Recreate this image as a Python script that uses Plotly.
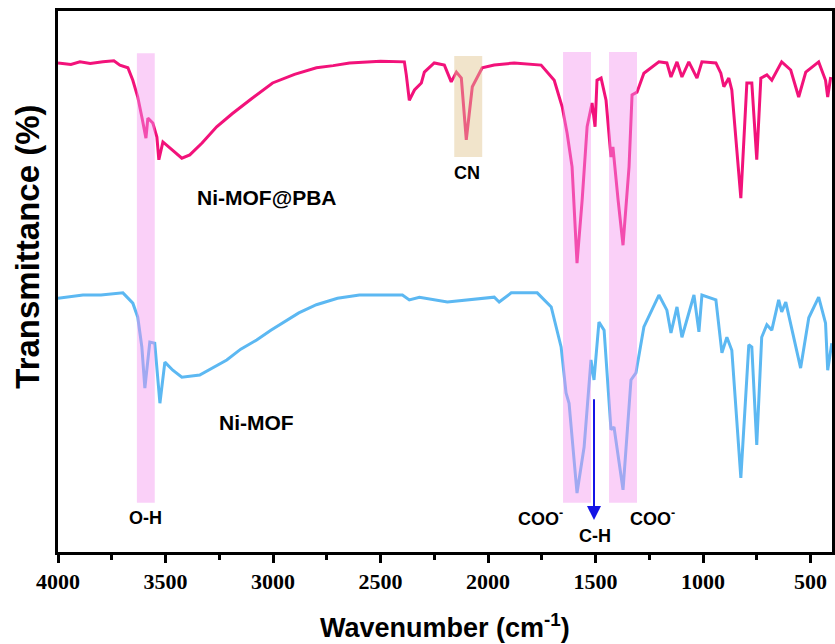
import plotly.graph_objects as go

# ---- data (wavenumber in cm-1, transmittance in arbitrary %) ----
pba_wn = [4000, 3940, 3898, 3850, 3791, 3740, 3712, 3675, 3652, 3629, 3610, 3591, 3582, 3559, 3540, 3531, 3512,
          3480, 3424, 3387, 3330, 3262, 3190, 3109, 3002, 2900, 2798, 2720, 2644, 2500, 2389, 2380, 2366, 2342, 2310, 2296,
          2250, 2203, 2171, 2147, 2124, 2101, 2073, 2027, 1971, 1878, 1800, 1753, 1692, 1655, 1632,
          1609, 1586, 1562, 1539, 1516, 1502, 1493, 1474, 1451, 1428, 1419, 1395, 1372, 1344,
          1330, 1307, 1275, 1205, 1168, 1149, 1121, 1098, 1066, 1028, 1005, 940, 917, 903,
          880, 866, 824, 796, 773, 750, 731, 703, 680, 634, 592, 555, 522, 462, 430, 420, 406]
pba_t = [90.4, 90.1, 90.6, 90.3, 90.6, 90.8, 90.0, 89.5, 87.2, 84.1, 80.4, 76.5, 80.2, 79.3, 76.7, 72.5, 75.8,
         74.7, 72.8, 73.4, 75.6, 78.6, 81.0, 83.5, 86.7, 88.3, 89.5, 89.9, 90.4, 90.7, 90.6, 88.2, 83.5, 85.4, 86.7, 88.7,
         90.4, 90.0, 86.9, 88.7, 87.6, 76.2, 86.0, 89.5, 90.0, 90.4, 90.2, 90.0, 87.2, 82.3, 77.4,
         71.2, 53.4, 65.1, 78.6, 83.0, 78.6, 87.2, 87.6, 83.5, 73.0, 74.9, 65.1, 56.7, 71.2,
         84.5, 85.0, 88.5, 90.6, 90.4, 87.8, 90.6, 87.8, 90.6, 87.6, 90.6, 90.4, 88.5, 86.0,
         87.6, 85.4, 65.4, 86.7, 86.7, 72.5, 87.6, 88.2, 87.2, 90.6, 89.1, 84.1, 88.7, 90.6,
         87.2, 84.1, 87.8]

mof_wn = [4000, 3940, 3884, 3800, 3698, 3652, 3629, 3610, 3596, 3573, 3550, 3526, 3503, 3466, 3424, 3341,
          3280, 3215, 3150, 3076, 3010, 2955, 2880, 2798, 2700, 2598, 2398, 2366, 2319, 2189, 1971, 1948, 1892, 1771, 1706,
          1660, 1637, 1623, 1586, 1553, 1521, 1507, 1484, 1460, 1428, 1414, 1372, 1335, 1312,
          1275, 1205, 1168, 1149, 1121, 1098, 1042, 1019, 1005, 940, 912, 889, 866, 824, 787,
          773, 750, 727, 703, 680, 648, 634, 615, 546, 508, 462, 430, 420, 401]
mof_t = [46.9, 47.2, 47.5, 47.5, 47.9, 46.0, 43.4, 37.9, 30.3, 38.8, 38.6, 27.5, 35.1, 33.6, 32.3, 32.7,
         34.0, 35.5, 37.5, 39.2, 41.0, 42.3, 44.2, 45.7, 46.9, 47.5, 47.5, 46.6, 47.1, 46.2, 47.1, 46.2, 47.9, 47.9, 45.3,
         37.9, 29.4, 27.5, 10.9, 19.4, 35.5, 31.8, 42.5, 41.0, 22.6, 23.1, 11.5, 31.8, 33.1,
         41.6, 47.5, 44.7, 40.5, 45.3, 39.7, 47.5, 40.7, 47.5, 46.6, 36.8, 39.7, 37.3, 13.7,
         38.3, 37.9, 19.8, 39.7, 42.0, 41.0, 46.6, 44.4, 46.2, 34.0, 43.3, 47.1, 42.3, 33.6,
         38.6]

# highlighted bands
band_lo = [3633, 2157, 1651, 1437]
band_hi = [3550, 2027, 1521, 1307]
band_bottom = [9.1, 73.0, 9.1, 9.1]
band_top = [92.2, 91.7, 92.4, 92.4]
band_kind = ["pink", "tan", "pink", "pink"]

series_names = ["Ni-MOF@PBA", "Ni-MOF"]
x_ticks = [4000, 3500, 3000, 2500, 2000, 1500, 1000, 500]

# labels: text, wavenumber, y
label_text = ["Ni-MOF@PBA", "Ni-MOF", "CN", "O-H", "COO<sup>-</sup>", "COO<sup>-</sup>", "C-H"]
label_wn = [3030, 3076, 2096, 3591, 1757, 1237, 1502]
label_y = [65.6, 24.0, 70.1, 6.3, 6.3, 6.3, 3.0]
label_size = [21, 21, 18, 18, 18, 18, 18]

arrow_wn = 1507
arrow_from = 28.5
arrow_to = 5.9

PINK = "#F2127A"
BLUE = "#5CB8F2"
SANS = "Liberation Sans"
SERIF = "Liberation Serif"

fig = go.Figure()
fig.add_trace(go.Scatter(x=pba_wn, y=pba_t, mode="lines", name=series_names[0],
                         line=dict(color=PINK, width=3)))
fig.add_trace(go.Scatter(x=mof_wn, y=mof_t, mode="lines", name=series_names[1],
                         line=dict(color=BLUE, width=3)))

fills = {"pink": "rgba(245,150,240,0.45)", "tan": "rgba(225,195,140,0.45)"}
for lo, hi, b, t, k in zip(band_lo, band_hi, band_bottom, band_top, band_kind):
    fig.add_shape(type="rect", xref="x", yref="y", x0=lo, x1=hi, y0=b, y1=t,
                  fillcolor=fills[k], line=dict(width=0), layer="above")

for txt, xw, yv, sz in zip(label_text, label_wn, label_y, label_size):
    fig.add_annotation(x=xw, y=yv, text="<b>" + txt + "</b>", showarrow=False,
                       xanchor="center", yanchor="middle",
                       font=dict(family=SANS, size=sz, color="black"))

fig.add_annotation(x=arrow_wn, y=arrow_to, ax=arrow_wn, ay=arrow_from, axref="x", ayref="y",
                   xref="x", yref="y", text="", showarrow=True, arrowhead=2, arrowsize=1.4,
                   arrowwidth=2, arrowcolor="#1414E6", standoff=0)

# axis titles
fig.add_annotation(xref="paper", yref="y", x=-0.039, y=56.4, text="<b>Transmittance (%)</b>",
                   textangle=-90, showarrow=False, xanchor="center", yanchor="middle",
                   font=dict(family=SANS, size=33, color="black"))
fig.add_annotation(xref="paper", yref="paper", x=0.5, y=-0.137,
                   text="<b>Wavenumber (cm<sup>-1</sup>)</b>", showarrow=False, xanchor="center",
                   yanchor="middle",
                   font=dict(family=SANS, size=27, color="black"))

fig.update_layout(
    width=835, height=644, showlegend=False,
    font=dict(family=SERIF, size=22, color="black"),
    margin=dict(l=58, r=3, t=11, b=92, autoexpand=False),
    plot_bgcolor="white", paper_bgcolor="white",
    xaxis=dict(range=[4000, 400], tickmode="array", tickvals=x_ticks,
               ticktext=["<b>" + str(v) + "</b>" for v in x_ticks],
               automargin=False,
               showgrid=False, zeroline=False, showline=True, linecolor="black", linewidth=3,
               mirror=True, ticks="outside", ticklen=8, tickwidth=2.5, tickcolor="black",
               minor=dict(dtick=250, ticks="outside", ticklen=5, tickwidth=2.5, tickcolor="black"),
               tickfont=dict(family=SERIF, size=22, color="black"),
               ),
    yaxis=dict(range=[0, 100], automargin=False, showgrid=False, zeroline=False, showline=True,
               linecolor="black", linewidth=3, mirror=True, showticklabels=False, ticks=""),
)

fig.write_html("out.html", config={"displayModeBar": False},
               post_script="document.body.style.margin='0';document.body.style.padding='0';")
